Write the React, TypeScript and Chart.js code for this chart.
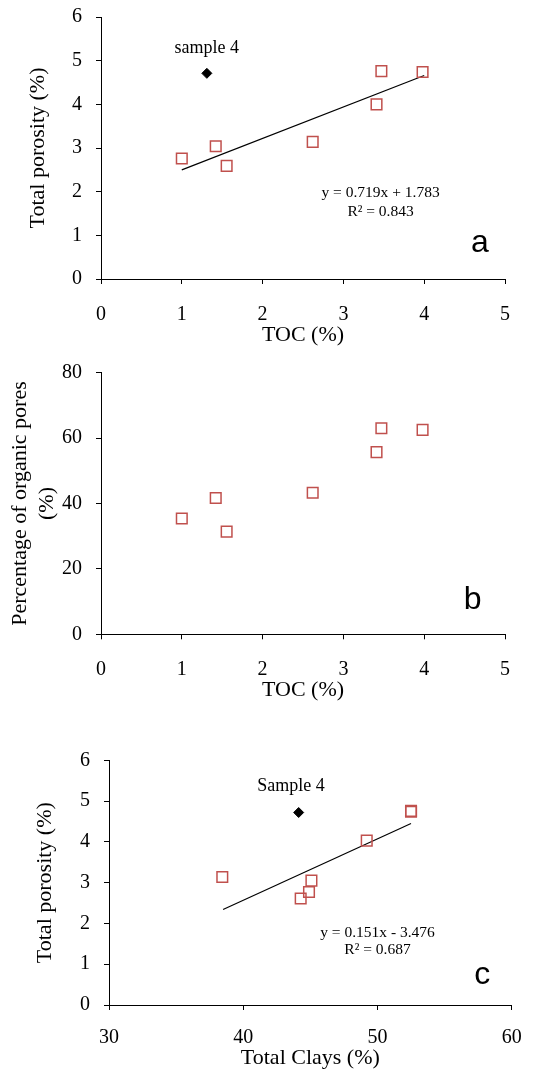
import React, { useEffect, useRef } from "react";
import { Chart, registerables } from "chart.js";

Chart.register(...registerables);

// ---- Panel a: Total porosity vs TOC ----
const tocA = [1.0, 1.42, 1.555, 2.62, 3.41, 3.47, 3.98];
const porosityA = [2.76, 3.04, 2.59, 3.14, 4.0, 4.76, 4.74];
const sample4TocA = [1.31];
const sample4PorosityA = [4.71];
const trendTocA = [1.0, 4.0];
const trendPorosityA = [2.5, 4.66];

// ---- Panel b: organic pores vs TOC ----
const tocB = [1.0, 1.42, 1.555, 2.62, 3.41, 3.47, 3.98];
const organicPoresB = [35.4, 41.7, 31.4, 43.3, 55.7, 63.0, 62.5];

// ---- Panel c: Total porosity vs Total clays ----
const claysC = [38.44, 44.28, 44.9, 45.08, 49.2, 52.5, 52.5];
const porosityC = [3.14, 2.61, 2.77, 3.05, 4.03, 4.76, 4.74];
const sample4ClaysC = [44.13];
const sample4PorosityC = [4.72];
const trendClaysC = [38.5, 52.5];
const trendPorosityC = [2.34, 4.45];

// text labels
const eqA = ["y = 0.719x + 1.783", "R\u00B2 = 0.843"];
const eqC = ["y = 0.151x - 3.476", "R\u00B2 = 0.687"];

const SERIF = "'Liberation Serif', 'Times New Roman', serif";
const SANS = "'Liberation Sans', Arial, sans-serif";
const RED = "rgb(192,80,77)";

const pts = (xs: number[], ys: number[]) => xs.map((x, i) => ({ x, y: ys[i] }));

type TextItem = { text: string; x: number; y: number; font: string };

function textPlugin(items: TextItem[]) {
  return {
    id: "panelText",
    afterDatasetsDraw(chart: any) {
      const { ctx, scales } = chart;
      const xs = scales.x;
      const ys = scales.y;
      ctx.save();
      ctx.fillStyle = "#000";
      ctx.textAlign = "center";
      ctx.textBaseline = "middle";
      for (const t of items) {
        ctx.font = t.font;
        ctx.fillText(t.text, xs.getPixelForValue(t.x), ys.getPixelForValue(t.y));
      }
      ctx.restore();
    },
  };
}

type PanelProps = {
  top: number;
  height: number;
  areaLeft: number;
  areaRight: number;
  areaTop: number;
  areaBottom: number;
  xMin: number;
  xMax: number;
  xStep: number;
  yMin: number;
  yMax: number;
  yStep: number;
  xTitle: string;
  yTitle: string | string[];
  xTitlePadBottom: number;
  yTitlePadTop: number;
  yTitleLineHeight: number;
  xTickPad: number;
  yTickPad: number;
  datasets: any[];
  texts: TextItem[];
};

const WIDTH = 538;

function zeroPad(s: any) {
  s.paddingTop = 0;
  s.paddingBottom = 0;
  s.paddingLeft = 0;
  s.paddingRight = 0;
}

function Panel(p: PanelProps) {
  const ref = useRef<HTMLCanvasElement | null>(null);
  useEffect(() => {
    if (!ref.current) return;
    const tickFont = { family: SERIF, size: 20 };
    const chart = new Chart(ref.current, {
      type: "scatter",
      data: { datasets: p.datasets },
      plugins: [textPlugin(p.texts)],
      options: {
        animation: false,
        responsive: false,
        maintainAspectRatio: false,
        layout: {
          autoPadding: false,
          padding: { top: p.areaTop, right: WIDTH - p.areaRight, left: 0, bottom: 0 },
        },
        plugins: { legend: { display: false }, tooltip: { enabled: false } },
        scales: {
          x: {
            type: "linear",
            min: p.xMin,
            max: p.xMax,
            ticks: { stepSize: p.xStep, color: "#000", font: tickFont, padding: p.xTickPad },
            grid: {
              drawOnChartArea: false,
              drawTicks: true,
              tickLength: 5,
              color: "#000",
              tickColor: "#000",
            },
            border: { color: "#000", width: 1 },
            title: {
              display: true,
              text: p.xTitle,
              color: "#000",
              font: { family: SERIF, size: 22, lineHeight: 1 },
              padding: { top: 0, bottom: p.xTitlePadBottom },
            },
            afterFit: (s: any) => {
              s.height = p.height - p.areaBottom;
              zeroPad(s);
            },
          },
          y: {
            type: "linear",
            min: p.yMin,
            max: p.yMax,
            ticks: { stepSize: p.yStep, color: "#000", font: tickFont, padding: p.yTickPad },
            grid: {
              drawOnChartArea: false,
              drawTicks: true,
              tickLength: 5,
              color: "#000",
              tickColor: "#000",
            },
            border: { color: "#000", width: 1 },
            title: {
              display: true,
              text: p.yTitle,
              color: "#000",
              font: { family: SERIF, size: 22, lineHeight: p.yTitleLineHeight },
              padding: { top: p.yTitlePadTop, bottom: 0 },
            },
            afterFit: (s: any) => {
              s.width = p.areaLeft;
              zeroPad(s);
            },
          },
        },
      } as any,
    });
    return () => chart.destroy();
  }, []);
  return (
    <canvas
      ref={ref}
      width={WIDTH}
      height={p.height}
      style={{ position: "absolute", left: 0, top: p.top, width: WIDTH, height: p.height, display: "block" }}
    />
  );
}

const squareDs = (data: { x: number; y: number }[]) => ({
  data,
  showLine: false,
  pointStyle: "rect",
  pointRadius: 7.5,
  pointBackgroundColor: "rgba(255,255,255,0)",
  pointBorderColor: RED,
  pointBorderWidth: 1.5,
  order: 1,
});

const diamondDs = (data: { x: number; y: number }[]) => ({
  data,
  showLine: false,
  pointStyle: "rectRot",
  pointRadius: 5,
  pointBackgroundColor: "#000",
  pointBorderColor: "#000",
  pointBorderWidth: 1,
  order: 0,
});

const trendDs = (data: { x: number; y: number }[]) => ({
  data,
  showLine: true,
  borderColor: "#000",
  borderWidth: 1.2,
  pointRadius: 0,
  fill: false,
  order: 2,
});

export default function App() {
  const f = (size: number, fam: string) => `${size}px ${fam}`;
  return (
    <div style={{ position: "absolute", left: 0, top: 0, width: WIDTH, height: 1070, background: "#fff" }}>
      <Panel
        top={0}
        height={350}
        areaLeft={101}
        areaRight={505}
        areaTop={17}
        areaBottom={279}
        xMin={0}
        xMax={5}
        xStep={1}
        yMin={0}
        yMax={6}
        yStep={1}
        xTitle="TOC (%)"
        yTitle="Total porosity (%)"
        xTitlePadBottom={4}
        yTitlePadTop={25}
        yTitleLineHeight={1.2}
        xTickPad={19}
        yTickPad={14}
        datasets={[
          trendDs(pts(trendTocA, trendPorosityA)),
          squareDs(pts(tocA, porosityA)),
          diamondDs(pts(sample4TocA, sample4PorosityA)),
        ]}
        texts={[
          { text: "sample 4", x: 1.31, y: 5.29, font: f(18, SERIF) },
          { text: eqA[0], x: 3.46, y: 1.96, font: f(15.5, SERIF) },
          { text: eqA[1], x: 3.46, y: 1.53, font: f(15.5, SERIF) },
          { text: "a", x: 4.69, y: 0.82, font: f(32, SANS) },
        ]}
      />
      <Panel
        top={350}
        height={370}
        areaLeft={101}
        areaRight={505}
        areaTop={22.7}
        areaBottom={284.3}
        xMin={0}
        xMax={5}
        xStep={1}
        yMin={0}
        yMax={80}
        yStep={20}
        xTitle="TOC (%)"
        yTitle={["Percentage of organic pores", "(%)"]}
        xTitlePadBottom={19}
        yTitlePadTop={6.5}
        yTitleLineHeight={1.23}
        xTickPad={18}
        yTickPad={14}
        datasets={[squareDs(pts(tocB, organicPoresB))]}
        texts={[{ text: "b", x: 4.6, y: 10.5, font: f(32, SANS) }]}
      />
      <Panel
        top={720}
        height={350}
        areaLeft={109}
        areaRight={511.7}
        areaTop={40.3}
        areaBottom={285}
        xMin={30}
        xMax={60}
        xStep={10}
        yMin={0}
        yMax={6}
        yStep={1}
        xTitle="Total Clays (%)"
        yTitle="Total porosity (%)"
        xTitlePadBottom={1}
        yTitlePadTop={32}
        yTitleLineHeight={1.2}
        xTickPad={16}
        yTickPad={14}
        datasets={[
          trendDs(pts(trendClaysC, trendPorosityC)),
          squareDs(pts(claysC, porosityC)),
          diamondDs(pts(sample4ClaysC, sample4PorosityC)),
        ]}
        texts={[
          { text: "Sample 4", x: 43.56, y: 5.37, font: f(18, SERIF) },
          { text: eqC[0], x: 50.0, y: 1.77, font: f(15.5, SERIF) },
          { text: eqC[1], x: 50.0, y: 1.34, font: f(15.5, SERIF) },
          { text: "c", x: 57.8, y: 0.74, font: f(32, SANS) },
        ]}
      />
    </div>
  );
}
